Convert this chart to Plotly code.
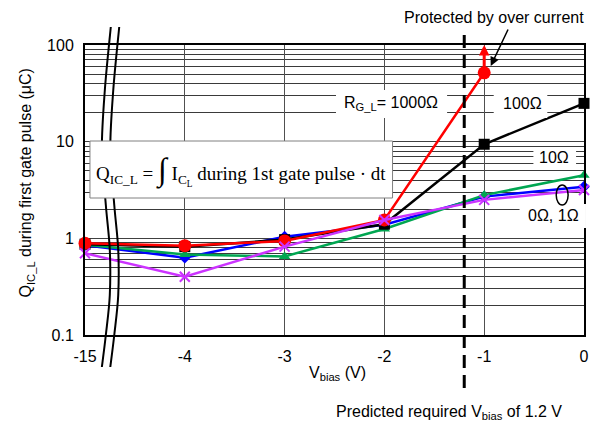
import plotly.graph_objects as go

# ---- data ----
x_labels = ['-15', '-4', '-3', '-2', '-1', '0']
x_pos = [0, 1, 2, 3, 4, 5]
r1000 = [0.89, 0.84, 0.94, 1.55, 51.6]          # red circles (no point at 0 V)
r100 = [0.87, 0.82, 0.97, 1.40, 9.4, 24.9]      # black squares
r10 = [0.86, 0.68, 0.65, 1.25, 2.8, 4.5]        # green triangles
r1 = [0.85, 0.63, 1.04, 1.38, 2.7, 3.42]        # blue diamonds
r0 = [0.70, 0.40, 0.82, 1.55, 2.5, 3.16]        # magenta crosses
y_ticks = [0.1, 1, 10, 100]
y_tick_text = ['0.1', '1', '10', '100']
predicted_bias_pos = 3.8   # -1.2 V between -2 and -1

W, H = 601, 423
L, R, T, B = 85, 13, 45, 88
PW, PH = W - L - R, H - T - B


def px(xp):
    return (xp - L) / PW


def py(yp):
    return (H - B - yp) / PH


FONT = "Liberation Sans, Arial, sans-serif"
SERIF = "Liberation Serif, Times New Roman, serif"

fig = go.Figure()

series = [
    (r1, '#0000FF', 'diamond', 9, '1Ω'),
    (r10, '#00A651', 'triangle-up', 10, '10Ω'),
    (r100, '#000000', 'square', 11, '100Ω'),
    (r1000, '#FF0000', 'circle', 13, '1000Ω'),
    (r0, '#CC33FF', 'x-thin', 10, '0Ω'),
]
for vals, col, sym, size, name in series:
    fig.add_trace(go.Scatter(
        x=x_pos[:len(vals)], y=vals, mode='lines+markers', name=name,
        line=dict(color=col, width=2.5),
        marker=dict(symbol=sym, size=size, color=col,
                    line=dict(color=col, width=2 if sym == 'x-thin' else 0)),
        cliponaxis=False, showlegend=False))

shapes = []


def curve(offset):
    pts = [(111, 27), (105, 90), (102, 150), (106, 205), (110, 250),
           (110, 295), (106, 335), (102, 367)]
    pts = [(a + offset, b) for a, b in pts]
    path = "M {} {}".format(px(pts[0][0]), py(pts[0][1]))
    for i in range(len(pts) - 1):
        p0 = pts[i - 1] if i > 0 else pts[i]
        p1 = pts[i]
        p2 = pts[i + 1]
        p3 = pts[i + 2] if i + 2 < len(pts) else pts[i + 1]
        c1 = (p1[0] + (p2[0] - p0[0]) / 6, p1[1] + (p2[1] - p0[1]) / 6)
        c2 = (p2[0] - (p3[0] - p1[0]) / 6, p2[1] - (p3[1] - p1[1]) / 6)
        path += " C {} {}, {} {}, {} {}".format(px(c1[0]), py(c1[1]),
                                                 px(c2[0]), py(c2[1]),
                                                 px(p2[0]), py(p2[1]))
    return path


for off in (0, 8.5):
    shapes.append(dict(type='path', xref='paper', yref='paper', path=curve(off),
                       line=dict(color='black', width=2)))

# formula box
shapes.append(dict(type='rect', xref='paper', yref='paper',
                   x0=px(90), x1=px(395), y0=py(198), y1=py(141),
                   fillcolor='white', line=dict(color='#808080', width=1)))

# white label boxes
for x0, x1, y0, y1 in [(338, 450, 90, 118), (497, 551, 90, 118),
                       (537, 580, 147, 167), (523, 590, 204, 228)]:
    shapes.append(dict(type='rect', xref='paper', yref='paper',
                       x0=px(x0), x1=px(x1), y0=py(y1), y1=py(y0),
                       fillcolor='white', line=dict(width=0)))

# ellipse around 0/1 ohm points
shapes.append(dict(type='circle', xref='paper', yref='paper',
                   x0=px(560), x1=px(572), y0=py(205), y1=py(185),
                   line=dict(color='black', width=1.5)))

# dashed predicted line
shapes.append(dict(type='line', xref='x', yref='paper',
                   x0=predicted_bias_pos, x1=predicted_bias_pos,
                   y0=py(388), y1=py(35),
                   line=dict(color='black', width=3, dash='13px,7px')))

fig.update_layout(shapes=shapes)


def txt(x, y, text, size=16, family=FONT, **kw):
    d = dict(xref='paper', yref='paper', x=px(x), y=py(y), text=text,
             showarrow=False, xanchor='center', yanchor='middle',
             font=dict(family=family, size=size, color='black'))
    d.update(kw)
    return d


ann = [
    txt(242, 170,
        "Q<sub>IC_L</sub> = <span style='font-size:32px'>∫</span> I<sub>C<sub>L</sub></sub> during 1st gate pulse · dt",
        size=19, family=SERIF),
    txt(393, 104, "R<sub>G_L</sub>= 1000Ω"),
    txt(526, 104, "100Ω"),
    txt(558, 157, "10Ω"),
    txt(557, 215, "0Ω, 1Ω"),
    txt(497, 17, "Protected by over current"),
    txt(26, 183, "Q<sub>IC_L</sub> during first gate pulse (μC)", textangle=-90),
    txt(340, 373, "V<sub>bias</sub> (V)"),
    txt(452, 412, "Predicted required V<sub>bias</sub> of 1.2 V"),
]
# black arrow to protected point
ann.append(dict(xref='paper', yref='paper', x=px(494), y=py(66), text='',
                showarrow=True, ax=18, ay=-38, arrowhead=2, arrowsize=1.2,
                arrowwidth=1.5, arrowcolor='black'))
# red up arrow
ann.append(dict(xref='x', yref='paper', x=4, y=py(45), text='',
                showarrow=True, ax=0, ay=27, arrowhead=2, arrowsize=0.7,
                arrowwidth=3, arrowcolor='#FF0000'))
fig.update_layout(annotations=ann)

fig.update_layout(
    width=W, height=H, margin=dict(l=L, r=R, t=T, b=B, pad=0),
    paper_bgcolor='white', plot_bgcolor='white',
    font=dict(family=FONT, size=16, color='black'),
    xaxis=dict(range=[0, 5], tickmode='array', tickvals=x_pos, ticktext=x_labels,
               showgrid=True, gridcolor='#505050', gridwidth=1.2,
               showline=True, linecolor='black', linewidth=2, mirror=True,
               ticks='', ticklabelstandoff=6, zeroline=False,
               tickfont=dict(size=16)),
    yaxis=dict(type='log', range=[-1, 2], tickmode='array',
               tickvals=y_ticks, ticktext=y_tick_text,
               showgrid=True, gridcolor='#404040', gridwidth=1.2,
               minor=dict(showgrid=True, gridcolor='#3a3a3a', gridwidth=1, dtick='D1'),
               showline=True, linecolor='black', linewidth=2, mirror=True,
               ticks='', ticklabelstandoff=6, zeroline=False,
               tickfont=dict(size=16)),
)

fig.write_html("out.html", config={'displayModeBar': False},
               post_script="document.body.style.margin='0';")
